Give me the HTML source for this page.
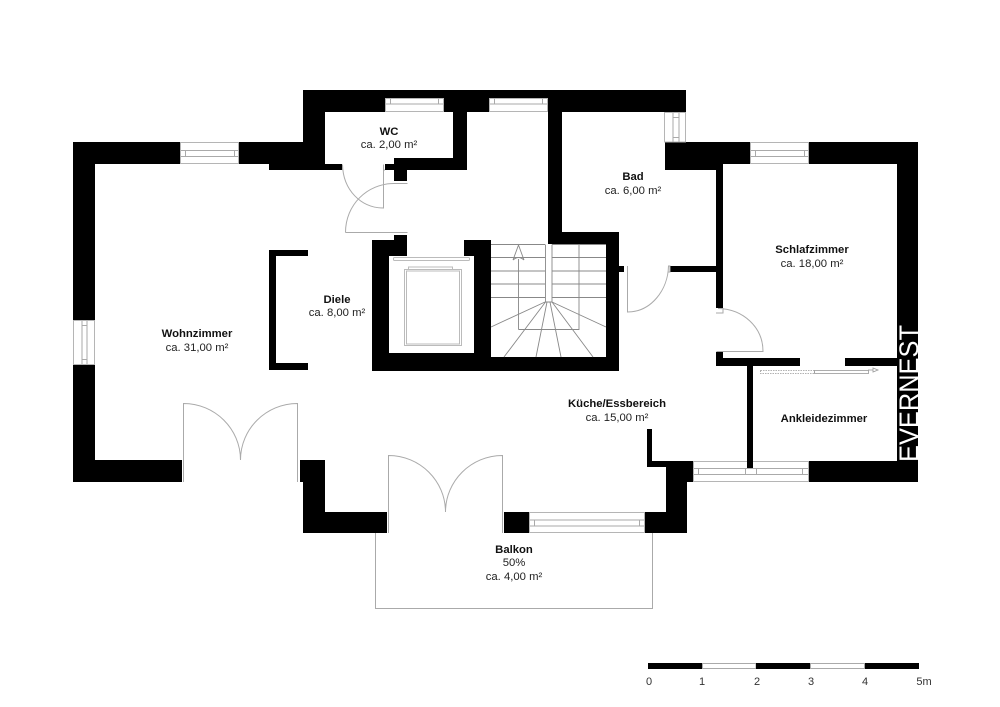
<!DOCTYPE html>
<html>
<head>
<meta charset="utf-8">
<style>
html,body{margin:0;padding:0;background:#fff;}
svg{display:block;}
text{font-family:"Liberation Sans",sans-serif;fill:#222;}
.b{font-weight:bold;font-size:11.3px;text-anchor:middle;fill:#111;}
.r{font-size:11.3px;text-anchor:middle;}
.s{font-size:11px;text-anchor:middle;fill:#333;}
.w{fill:#000;stroke:none;}
.d{fill:none;stroke:#aaa;stroke-width:1;}
.g{fill:none;stroke:#888;stroke-width:.9;}
.win{fill:#fff;stroke:#b5b5b5;stroke-width:1;}
.in{fill:none;stroke:#aaa;stroke-width:1;}
</style>
</head>
<body>
<svg width="1000" height="707" viewBox="0 0 1000 707" xmlns="http://www.w3.org/2000/svg">
<rect width="1000" height="707" fill="#fff"/>

<!-- balcony -->
<path class="d" d="M375.5 533V608.5H652.5V533"/>

<!-- walls -->
<g class="w">
<path d="M73 142H180V164H95V320H73Z"/>
<path d="M73 365H95V460H182V482H73Z"/>
<path d="M239 142H303V90H686V112H562V232H619V371H372V240H394V235H407V256H389V353H474V256H464V240H491V357H606V244H548V112H467V170H407V181H394V170H385V164H394V158H453V112H325V164H342V170H269V164H239Z"/>
<path d="M300 460H325V512H387V533H303V482H300Z"/>
<path d="M504 512H529V533H504Z"/>
<path d="M645 512H666V467H647V429H652V461H693V482H687V533H645Z"/>
<path d="M665 142H750V164H723V308H716V170H665Z"/>
<path d="M809 142H918V482H809V461H897V164H809Z"/>
<rect x="670" y="266" width="46" height="6"/>
<rect x="619" y="266" width="5" height="6"/>
<path d="M716 352H723V358H800V366H753V468H747V366H716Z"/>
<rect x="845" y="358" width="53" height="8"/>
<path d="M269 250H308V256H276V363H308V370H269Z"/>
</g>

<!-- windows -->
<g>
<rect class="win" x="180.500" y="142.500" width="58" height="21"/>
<path class="in" d="M181 150.500H238M181 156.500H238M185.500 150.500V156.500M234.500 150.500V156.500"/>
<rect class="win" x="750.500" y="142.500" width="58" height="21"/>
<path class="in" d="M751 150.500H808M751 156.500H808M755.500 150.500V156.500M804.500 150.500V156.500"/>
<rect class="win" x="73.500" y="320.500" width="21" height="44"/>
<path class="in" d="M82 321V364M87 321V364M82 325.500H87M82 359.500H87"/>
<rect class="win" x="385.500" y="98.500" width="58" height="13"/>
<path class="in" d="M390.500 98.500V104M438.500 98.500V104M386 104H443"/>
<rect class="win" x="489.500" y="98.500" width="58" height="13"/>
<path class="in" d="M494.500 98.500V104M542.500 98.500V104M490 104H547"/>
<rect class="win" x="664.500" y="112.500" width="21" height="29.500"/>
<path class="in" d="M673 113V142M679 113V142M673 117.500H679M673 137.500H679"/>
<rect class="win" x="529.500" y="512.500" width="115" height="20"/>
<path class="in" d="M530 520H644M530 526H644M534.500 520V526M639.500 520V526"/>
<rect class="win" x="693.500" y="461.500" width="115" height="20"/>
<path class="in" d="M694 468.500H808M694 474.500H808M698.500 468.500V474.500M745.500 468.500V474.500M756.500 468.500V474.500M802.500 468.500V474.500"/>
</g>
<rect x="747" y="461" width="6" height="7" fill="#000"/>

<!-- doors -->
<g class="d">
<path d="M383.500 164.500V208C361 208 343 190 342.500 164.500"/>
<path d="M342.500 164.500V170M385 170H383.500"/>
<path d="M345.500 232.500H407.500M345.500 232.500C345.500 205 367 183.500 394 183.500H407.500"/>
<path d="M183.500 482V403.500C215 403.500 240.500 429 240.500 460C240.500 429 266 403.500 297.500 403.500V482"/>
<path d="M388.500 533V455.500C420 455.500 445.500 481 445.500 512C445.500 481 471 455.500 502.500 455.500V533"/>
<path d="M627.500 266V312C651 312 668 290 668.500 266H670V272H668"/>
<path d="M716.500 351.500H763C763 327 743 309 718 308.500H723V313H716"/>
</g>

<!-- stairs -->
<g class="g">
<path d="M491 244.500H545M552 244.500H606M491 257.500H545M552 257.500H606M491 271H545M552 271H606M491 284H545M552 284H606M491 297.500H545M552 297.500H606"/>
<path d="M545.500 244.500V302H552V244.500"/>
<path d="M518.500 329.500H579V244.500M518.500 329.500V259"/>
<path d="M513 260L518.500 245L524 260M513 260Q518.500 255 524 260"/>
<path d="M545 302L491 327M545.500 302L504 357M547 302L536 357M550 302L561 357M552 302L593 357M552 302L606 327"/>
</g>

<!-- shaft -->
<g fill="none" stroke="#bbb" stroke-width="1">
<rect x="393.500" y="257.500" width="76" height="3" rx="1"/>
<rect x="404.500" y="269.500" width="57" height="76"/>
<rect x="406.500" y="271" width="53" height="73"/>
<rect x="408.500" y="267" width="44" height="2.500"/>
</g>

<!-- sliding door -->
<g fill="none" stroke="#999" stroke-width=".8">
<rect x="760.500" y="370.500" width="54" height="3" stroke-dasharray="1.500 1"/>
<rect x="814.500" y="370.500" width="54" height="3"/>
<path d="M868 370H873M873 368L878 370L873 372Z"/>
</g>

<!-- labels -->
<text class="b" x="197" y="337">Wohnzimmer</text>
<text class="r" x="197" y="351">ca. 31,00 m²</text>
<text class="b" x="337" y="303">Diele</text>
<text class="r" x="337" y="316">ca. 8,00 m²</text>
<text class="b" x="389" y="135">WC</text>
<text class="r" x="389" y="148">ca. 2,00 m²</text>
<text class="b" x="633" y="180">Bad</text>
<text class="r" x="633" y="194">ca. 6,00 m²</text>
<text class="b" x="812" y="253">Schlafzimmer</text>
<text class="r" x="812" y="267">ca. 18,00 m²</text>
<text class="b" x="617" y="407">Küche/Essbereich</text>
<text class="r" x="617" y="421">ca. 15,00 m²</text>
<text class="b" x="514" y="553">Balkon</text>
<text class="r" x="514" y="566">50%</text>
<text class="r" x="514" y="580">ca. 4,00 m²</text>
<text class="b" x="824" y="422">Ankleidezimmer</text>

<!-- brand -->
<text x="0" y="0" transform="translate(918 462) rotate(-90)" font-size="27" textLength="137" lengthAdjust="spacingAndGlyphs" style="fill:#fff">EVERNEST</text>

<!-- scale -->
<rect x="648" y="663" width="54" height="6" fill="#000"/>
<rect x="702.500" y="663.500" width="53.500" height="5" fill="#fff" stroke="#aaa"/>
<rect x="756" y="663" width="54" height="6" fill="#000"/>
<rect x="810.500" y="663.500" width="54" height="5" fill="#fff" stroke="#aaa"/>
<rect x="865" y="663" width="54" height="6" fill="#000"/>
<text class="s" x="649" y="685">0</text>
<text class="s" x="702" y="685">1</text>
<text class="s" x="757" y="685">2</text>
<text class="s" x="811" y="685">3</text>
<text class="s" x="865" y="685">4</text>
<text class="s" x="924" y="685">5m</text>
</svg>
</body>
</html>
